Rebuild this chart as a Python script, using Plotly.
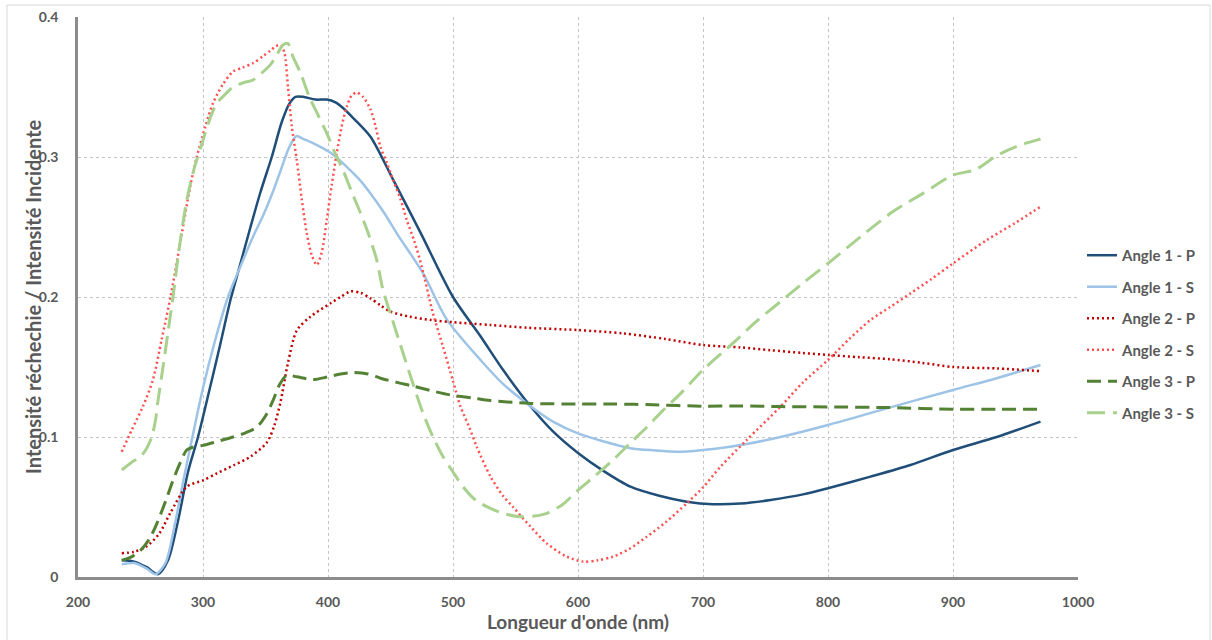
import plotly.graph_objects as go

# ---------------- data ----------------
wl_1p = [235, 245, 255, 264, 272, 280, 288, 296, 305, 314, 322, 330, 338, 346, 355, 363, 369, 374, 380, 390,
         399, 406, 412, 420, 434, 452, 474, 500, 522, 540, 562, 580, 600, 620, 642, 665, 687, 708, 730, 754,
         780, 800, 834, 866, 900, 935, 970]
val_1p = [0.012, 0.011, 0.007, 0.002, 0.012, 0.040, 0.075, 0.100, 0.133, 0.167, 0.198, 0.224, 0.250, 0.275, 0.300,
          0.325, 0.338, 0.343, 0.343, 0.341, 0.341, 0.339, 0.335, 0.328, 0.3145, 0.284, 0.246, 0.200, 0.172, 0.148,
          0.122, 0.104, 0.0886, 0.076, 0.0645, 0.058, 0.0538, 0.052, 0.0525, 0.055, 0.059, 0.0634, 0.0717, 0.080,
          0.0907, 0.100, 0.111]

wl_1s = [235, 245, 255, 262, 270, 278, 285, 292, 300, 310, 320, 330, 340, 348, 355, 362, 368, 372, 375, 380,
         390, 402, 415, 425, 434, 445, 455, 476, 495, 522, 540, 562, 580, 600, 620, 642, 660, 682, 708, 735,
         762, 800, 852, 900, 935, 970]
val_1s = [0.009, 0.010, 0.006, 0.002, 0.010, 0.040, 0.072, 0.102, 0.135, 0.170, 0.200, 0.222, 0.243, 0.258, 0.273,
          0.290, 0.305, 0.312, 0.315, 0.313, 0.309, 0.303, 0.293, 0.284, 0.274, 0.260, 0.2455, 0.217, 0.184, 0.155,
          0.138, 0.122, 0.111, 0.1026, 0.097, 0.092, 0.0905, 0.0895, 0.0914, 0.095, 0.100, 0.1086, 0.1217, 0.1336,
          0.142, 0.1514]

wl_2p = [235, 245, 255, 265, 274, 287, 300, 311, 325, 338, 351, 357, 362, 368, 375, 386, 402, 410, 418, 426,
         434, 442, 450, 465, 482, 500, 530, 560, 600, 636, 670, 700, 730, 754, 780, 800, 825, 850, 875, 900,
         935, 970]
val_2p = [0.017, 0.018, 0.022, 0.031, 0.046, 0.0645, 0.069, 0.074, 0.080, 0.086, 0.096, 0.108, 0.125, 0.153, 0.176,
          0.186, 0.1955, 0.200, 0.204, 0.203, 0.199, 0.194, 0.1895, 0.186, 0.1836, 0.182, 0.180, 0.178, 0.1764,
          0.174, 0.170, 0.1657, 0.164, 0.162, 0.160, 0.1586, 0.157, 0.1555, 0.153, 0.150, 0.149, 0.147]

wl_2s = [235, 243, 252, 260, 267, 274, 282, 290, 295, 302, 308, 316, 324, 332, 340, 348, 354, 358, 362, 365,
         368, 371, 375, 379, 383, 387, 391, 395, 399, 403, 407, 411, 415, 419, 423, 428, 434, 438, 442, 447,
         452, 458, 463, 469, 475, 484, 492, 500, 506, 513, 519, 530, 540, 548, 562, 575, 590, 604, 616, 628,
         641, 655, 670, 687, 700, 714, 735, 762, 780, 800, 817, 834, 850, 866, 883, 900, 927, 950, 970]
val_2s = [0.0895, 0.105, 0.122, 0.141, 0.170, 0.200, 0.240, 0.280, 0.300, 0.322, 0.3385, 0.352, 0.361, 0.364,
          0.367, 0.372, 0.376, 0.379, 0.380, 0.375, 0.350, 0.322, 0.298, 0.270, 0.2455, 0.230, 0.2229, 0.232,
          0.255, 0.280, 0.3026, 0.322, 0.336, 0.344, 0.346, 0.343, 0.334, 0.322, 0.307, 0.296, 0.2836, 0.270,
          0.255, 0.240, 0.2216, 0.1883, 0.1645, 0.140, 0.1217, 0.107, 0.093, 0.0717, 0.058, 0.050, 0.036, 0.024,
          0.015, 0.011, 0.012, 0.0145, 0.020, 0.0288, 0.039, 0.0526, 0.064, 0.0788, 0.0979, 0.1217, 0.139, 0.155,
          0.170, 0.1836, 0.193, 0.2026, 0.213, 0.224, 0.2407, 0.253, 0.2645]

wl_3p = [235, 242, 250, 257, 263, 270, 276, 282, 287, 293, 300, 312, 324, 334, 343, 350, 356, 361, 367, 375,
         388, 400, 410, 420, 432, 442, 455, 468, 483, 498, 515, 530, 562, 600, 628, 660, 700, 730, 762, 800,
         850, 900, 935, 970]
val_3p = [0.012, 0.014, 0.019, 0.027, 0.038, 0.054, 0.069, 0.082, 0.0907, 0.093, 0.094, 0.097, 0.100, 0.103, 0.107,
          0.115, 0.126, 0.137, 0.144, 0.143, 0.141, 0.143, 0.145, 0.146, 0.145, 0.142, 0.139, 0.1364, 0.133, 0.130,
          0.128, 0.126, 0.124, 0.1236, 0.1236, 0.123, 0.122, 0.1222, 0.1217, 0.1215, 0.121, 0.1198, 0.1198, 0.1198]

wl_3s = [235, 243, 250, 255, 259, 262, 264, 268, 272, 276, 281, 287, 293, 300, 305, 311, 318, 324, 332, 340,
         347, 354, 359, 364, 368, 372, 378, 385, 392, 399, 405, 412, 419, 426, 432, 439, 444, 450, 460, 468,
         476, 484, 492, 500, 508, 518, 530, 542, 554, 565, 575, 588, 600, 614, 628, 641, 655, 668, 682, 700,
         724, 742, 762, 780, 800, 826, 852, 876, 900, 918, 935, 952, 967, 970]
val_3s = [0.0764, 0.082, 0.086, 0.092, 0.100, 0.112, 0.126, 0.150, 0.175, 0.200, 0.235, 0.269, 0.292, 0.312, 0.326,
          0.3383, 0.345, 0.350, 0.353, 0.355, 0.360, 0.366, 0.373, 0.380, 0.381, 0.3716, 0.360, 0.343, 0.330,
          0.317, 0.304, 0.2907, 0.275, 0.260, 0.246, 0.2264, 0.205, 0.188, 0.160, 0.138, 0.117, 0.100, 0.086,
          0.075, 0.0645, 0.055, 0.049, 0.045, 0.043, 0.0435, 0.0455, 0.052, 0.062, 0.0725, 0.0836, 0.095, 0.107,
          0.119, 0.131, 0.148, 0.167, 0.182, 0.1967, 0.210, 0.224, 0.243, 0.261, 0.274, 0.287, 0.291, 0.301,
          0.308, 0.312, 0.313]

series_names = ["Angle 1 - P", "Angle 1 - S", "Angle 2 - P", "Angle 2 - S", "Angle 3 - P", "Angle 3 - S"]
x_ticks = [200, 300, 400, 500, 600, 700, 800, 900, 1000]
y_ticks = [0, 0.1, 0.2, 0.3, 0.4]
x_title = "Longueur d'onde (nm)"
y_title = "Intensité réchechie / Intensité Incidente"

# ---------------- figure ----------------
FONT = "Lato"
TXT = "#595959"

styles = [
    dict(color="#1F4E79", width=2.5, dash="solid"),
    dict(color="#9DC3E6", width=2.5, dash="solid"),
    dict(color="#C00000", width=2.5, dash="2px,3px"),
    dict(color="#FF4F4F", width=2.5, dash="2px,3px"),
    dict(color="#548235", width=3.0, dash="14px,7px"),
    dict(color="#A9D18E", width=3.0, dash="18px,8px"),
]
data = [(wl_1p, val_1p), (wl_1s, val_1s), (wl_2p, val_2p), (wl_2s, val_2s), (wl_3p, val_3p), (wl_3s, val_3s)]

fig = go.Figure()
for i, ((xs, ys), name, st) in enumerate(zip(data, series_names, styles)):
    fig.add_trace(go.Scatter(
        x=xs, y=ys, name=name, mode="lines",
        line=dict(color=st["color"], width=st["width"], dash=st["dash"], shape="spline", smoothing=0.8),
        legendgroup=f"g{i}",
    ))

fig.update_layout(
    width=1212, height=640,
    margin=dict(l=78, r=134, t=17, b=63, autoexpand=False),
    paper_bgcolor="white", plot_bgcolor="white",
    font=dict(family=FONT, color=TXT),
    showlegend=True,
    legend=dict(
        x=1.004, xanchor="left", y=0.434, yanchor="middle",
        font=dict(family=FONT, size=15, color=TXT, weight="bold"),
        tracegroupgap=9, itemwidth=30, bgcolor="rgba(0,0,0,0)",
    ),
    xaxis=dict(
        range=[200, 1000], tickvals=x_ticks, ticktext=[str(v) for v in x_ticks],
        showgrid=True, gridcolor="#C4C4C4", griddash="dot", gridwidth=1,
        showline=True, linecolor="#8C8C8C", linewidth=2.5, zeroline=False,
        ticks="", ticklabelstandoff=10, automargin=False,
        tickfont=dict(family=FONT, size=14, color=TXT, weight="bold"),
        title=dict(text=x_title, standoff=8,
                   font=dict(family=FONT, size=19, color=TXT, weight="bold")),
    ),
    yaxis=dict(
        range=[0, 0.4], tickvals=y_ticks, ticktext=["0", "0.1", "0.2", "0.3", "0.4"],
        showgrid=True, gridcolor="#C4C4C4", griddash="dot", gridwidth=1,
        showline=True, linecolor="#8C8C8C", linewidth=2.5, zeroline=False,
        ticks="", ticklabelstandoff=14, automargin=False,
        tickfont=dict(family=FONT, size=14, color=TXT, weight="bold"),
    ),
    annotations=[dict(text=y_title, xref="paper", yref="paper", x=-0.045, y=0.5,
                      xanchor="center", yanchor="middle", textangle=-90, showarrow=False,
                      font=dict(family=FONT, size=20, color=TXT, weight="bold"))],
    shapes=[dict(type="rect", xref="paper", yref="paper",
                 x0=-0.071, x1=1.132, y0=-0.12, y1=1.0214,
                 line=dict(color="#D9D9D9", width=1), fillcolor="rgba(0,0,0,0)", layer="below")],
)

fig.write_html("out.html", config={"displayModeBar": False},
               post_script="document.body.style.margin='0';document.body.style.overflow='hidden';")
